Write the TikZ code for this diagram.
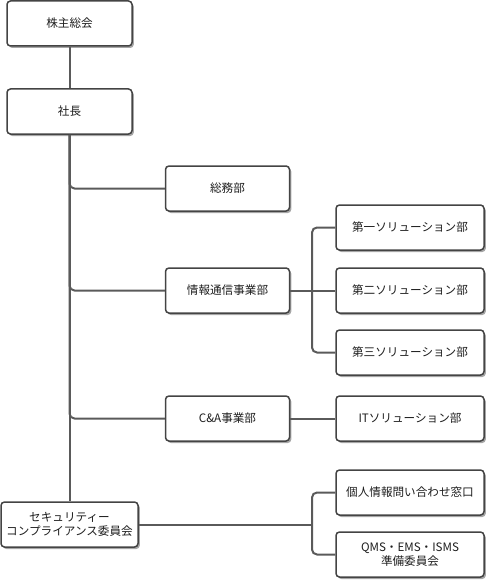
\documentclass[tikz,border=0pt]{standalone}
\usepackage{fontspec}
\setmainfont{Noto Sans CJK JP}
\usetikzlibrary{shadows}
\definecolor{lineclr}{HTML}{5A5A5A}
\definecolor{boxclr}{HTML}{444444}
\definecolor{txtclr}{HTML}{1E1E1E}
\begin{document}
\begin{tikzpicture}[x=1pt,y=-1pt,
  box/.style={draw=boxclr, line width=1.5pt, fill=white, rounded corners=3.5pt,
    minimum height=45pt, inner sep=0pt, align=center, text=txtclr,
    font=\fontsize{11.6}{14.5}\selectfont,
    drop shadow={shadow xshift=1.8pt, shadow yshift=-2pt, opacity=0.35, fill=black}},
  conn/.style={draw=lineclr, line width=2pt, rounded corners=5pt}]
\useasboundingbox (0,0) rectangle (491,583);
\coordinate (jb) at (312,290.5);
\coordinate (sb) at (312,524.5);
\node[box, minimum width=125pt] (kabu) at (69.5,23.5) {株主総会};
\node[box, minimum width=125pt] (shacho) at (69.5,111.5) {社長};
\node[box, minimum width=137pt] (sec) at (69.5,524.5) {セキュリティー\\コンプライアンス委員会};
\node[box, minimum width=124pt] (somu) at (227.5,188.5) {総務部};
\node[box, minimum width=124pt] (joho) at (227.5,290.5) {情報通信事業部};
\node[box, minimum width=124pt] (ca) at (227.5,418.5) {C\&A事業部};
\node[box, minimum width=148pt] (dai1) at (410,227.5) {第一ソリューション部};
\node[box, minimum width=148pt] (dai2) at (410,290.5) {第二ソリューション部};
\node[box, minimum width=148pt] (dai3) at (410,352.5) {第三ソリューション部};
\node[box, minimum width=148pt] (it) at (410,418.5) {ITソリューション部};
\node[box, minimum width=148pt] (kojin) at (410,492.5) {個人情報問い合わせ窓口};
\node[box, minimum width=148pt] (qms) at (410,554.5) {QMS・EMS・ISMS\\準備委員会};
\path[conn] (kabu.south) -- (shacho.north);
\path[conn] (shacho.south) -- (shacho.south |- sec.north);
\path[conn] (shacho.south) |- (somu.west);
\path[conn] (shacho.south) |- (joho.west);
\path[conn] (shacho.south) |- (ca.west);
\path[conn] (joho.east) -- (dai2.west);
\path[conn] (jb) |- (dai1.west);
\path[conn] (jb) |- (dai3.west);
\path[conn] (ca.east) -- (it.west);
\path[conn] (sec.east) -- ([xshift=1pt]sb);
\path[conn] (sb) |- (kojin.west);
\path[conn] (sb) |- (qms.west);
\end{tikzpicture}
\end{document}
